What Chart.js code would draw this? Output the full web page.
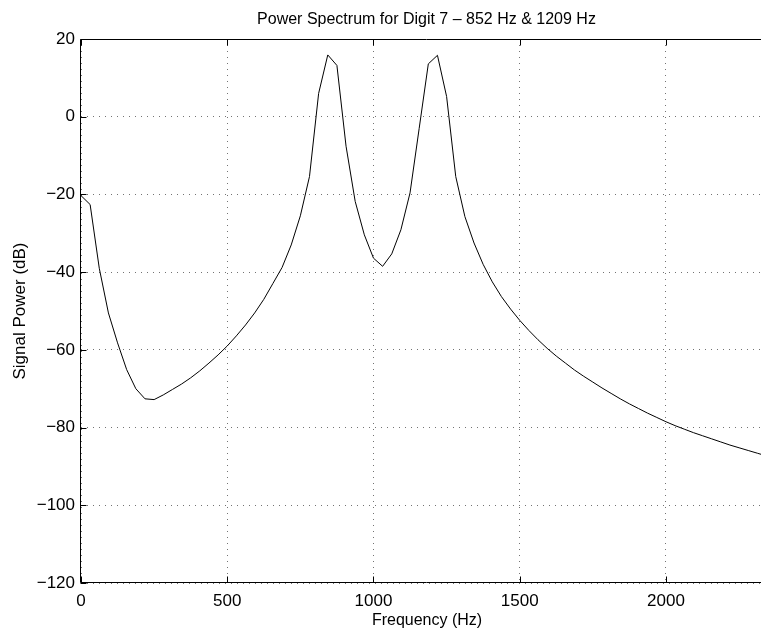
<!DOCTYPE html>
<html>
<head>
<meta charset="utf-8">
<title>Power Spectrum for Digit 7</title>
<script src="https://cdn.jsdelivr.net/npm/chart.js@4/dist/chart.umd.min.js"></script>
<style>
  html, body { margin: 0; padding: 0; background: #fff; overflow: hidden; }
  #wrap { width: 761px; height: 632px; overflow: hidden; }
  canvas { display: block; }
</style>
</head>
<body>
<div id="wrap">
  <canvas id="spectrumChart" width="853" height="632"></canvas>
</div>
<script>
// frequency bins (Hz)
const freqHz = [
  0, 31.25, 62.5, 93.75, 125, 156.25, 187.5, 218.75, 250, 281.25,
  312.5, 343.75, 375, 406.25, 437.5, 468.75, 500, 531.25, 562.5, 593.75,
  625, 656.25, 687.5, 718.75, 750, 781.25, 812.5, 843.75, 875, 906.25,
  937.5, 968.75, 1000, 1031.25, 1062.5, 1093.75, 1125, 1156.25, 1187.5, 1218.75,
  1250, 1281.25, 1312.5, 1343.75, 1375, 1406.25, 1437.5, 1468.75, 1500, 1531.25,
  1562.5, 1593.75, 1625, 1656.25, 1687.5, 1718.75, 1750, 1781.25, 1812.5, 1843.75,
  1875, 1906.25, 1937.5, 1968.75, 2000, 2031.25, 2062.5, 2093.75, 2125, 2156.25,
  2187.5, 2218.75, 2250, 2281.25, 2312.5, 2343.75, 2375,
];

// signal power (dB)
const powerDb = [
  -20.3, -22.6, -39.0, -50.5, -58.2, -65.1, -70.0, -72.6, -72.8, -71.6,
  -70.2, -68.8, -67.2, -65.4, -63.4, -61.3, -59.0, -56.4, -53.6, -50.5,
  -47.0, -42.9, -38.8, -33.0, -25.5, -15.4, 6.0, 15.9, 13.2, -7.6,
  -21.8, -30.4, -36.4, -38.5, -35.3, -29.1, -19.6, -3.0, 13.6, 15.8,
  5.2, -15.4, -25.7, -32.5, -38.0, -42.5, -46.3, -49.5, -52.4, -55.0,
  -57.4, -59.6, -61.6, -63.4, -65.2, -66.8, -68.3, -69.8, -71.2, -72.6,
  -73.9, -75.1, -76.3, -77.4, -78.5, -79.5, -80.4, -81.3, -82.1, -82.9,
  -83.7, -84.5, -85.2, -85.9, -86.6, -87.3, -88.0,
];

const xTicks = [0, 500, 1000, 1500, 2000];
const yTicks = [-120, -100, -80, -60, -40, -20, 0, 20];

const FONT = "'Liberation Sans', Arial, Helvetica, sans-serif";
const TICK_LEN = 6;

// MATLAB style box with inward ticks
const axesBoxPlugin = {
  id: "axesBox",
  afterDatasetsDraw(chart) {
    const { ctx, chartArea: a, scales } = chart;
    const l = Math.round(a.left) - 0.5;
    const r = Math.round(a.right) - 0.5;
    const t = Math.round(a.top) + 0.5;
    const b = Math.round(a.bottom) - 0.5;
    ctx.save();
    ctx.strokeStyle = "#000";
    ctx.lineWidth = 1;
    ctx.beginPath();
    ctx.rect(l, t, r - l, b - t);
    scales.x.ticks.forEach((tick) => {
      const px = Math.round(scales.x.getPixelForValue(tick.value)) + 0.5;
      ctx.moveTo(px, b);
      ctx.lineTo(px, b - TICK_LEN);
      ctx.moveTo(px, t);
      ctx.lineTo(px, t + TICK_LEN);
    });
    scales.y.ticks.forEach((tick) => {
      const py = Math.round(scales.y.getPixelForValue(tick.value)) + 0.5;
      ctx.moveTo(l, py);
      ctx.lineTo(l + TICK_LEN, py);
      ctx.moveTo(r, py);
      ctx.lineTo(r - TICK_LEN, py);
    });
    ctx.stroke();
    ctx.restore();
  },
};

function minusSign(v) {
  return v < 0 ? "\u2212" + Math.abs(v) : String(v);
}

const ctx = document.getElementById("spectrumChart").getContext("2d");

new Chart(ctx, {
  type: "line",
  data: {
    datasets: [
      {
        data: freqHz.map((f, i) => ({ x: f, y: powerDb[i] })),
        borderColor: "#000",
        borderWidth: 1,
        pointRadius: 0,
        tension: 0,
        fill: false,
      },
    ],
  },
  options: {
    responsive: false,
    animation: false,
    devicePixelRatio: 1,
    layout: { padding: 0 },
    plugins: {
      legend: { display: false },
      tooltip: { enabled: false },
      title: {
        display: true,
        text: "Power Spectrum for Digit 7 \u2013 852 Hz & 1209 Hz",
        color: "#000",
        font: { family: FONT, size: 16, weight: "normal", lineHeight: 1.2 },
        padding: { top: 10, bottom: 9.8 },
      },
    },
    scales: {
      x: {
        type: "linear",
        min: 0,
        max: 2366,
        afterBuildTicks: (axis) => {
          axis.ticks = xTicks.map((v) => ({ value: v }));
        },
        afterFit: (axis) => {
          axis.height = 49;
        },
        grid: {
          color: "rgba(0,0,0,0.55)",
          lineWidth: 1,
          drawTicks: false,
        },
        border: { display: false, dash: [1, 5] },
        ticks: {
          color: "#000",
          padding: 8,
          maxRotation: 0,
          font: { family: FONT, size: 17 },
          callback: (v) => String(v),
        },
        title: {
          display: true,
          text: "Frequency (Hz)",
          color: "#000",
          font: { family: FONT, size: 16 },
          padding: { top: 0, bottom: 2 },
        },
      },
      y: {
        type: "linear",
        min: -120,
        max: 20,
        afterBuildTicks: (axis) => {
          axis.ticks = yTicks.map((v) => ({ value: v }));
        },
        afterFit: (axis) => {
          axis.width = 81;
        },
        grid: {
          color: "rgba(0,0,0,0.55)",
          lineWidth: 1,
          drawTicks: false,
        },
        border: { display: false, dash: [1, 5] },
        ticks: {
          color: "#000",
          padding: 6,
          font: { family: FONT, size: 17 },
          callback: (v) => minusSign(v),
        },
        title: {
          display: true,
          text: "Signal Power (dB)",
          color: "#000",
          font: { family: FONT, size: 17 },
          padding: { top: 10, bottom: 0 },
        },
      },
      // empty right axis: keeps the plot box right edge where the original figure had it
      yRight: {
        type: "linear",
        position: "right",
        min: -120,
        max: 20,
        afterFit: (axis) => {
          axis.width = 80;
        },
        grid: { display: false, drawTicks: false },
        border: { display: false },
        ticks: { display: false },
      },
    },
  },
  plugins: [axesBoxPlugin],
});
</script>
</body>
</html>
